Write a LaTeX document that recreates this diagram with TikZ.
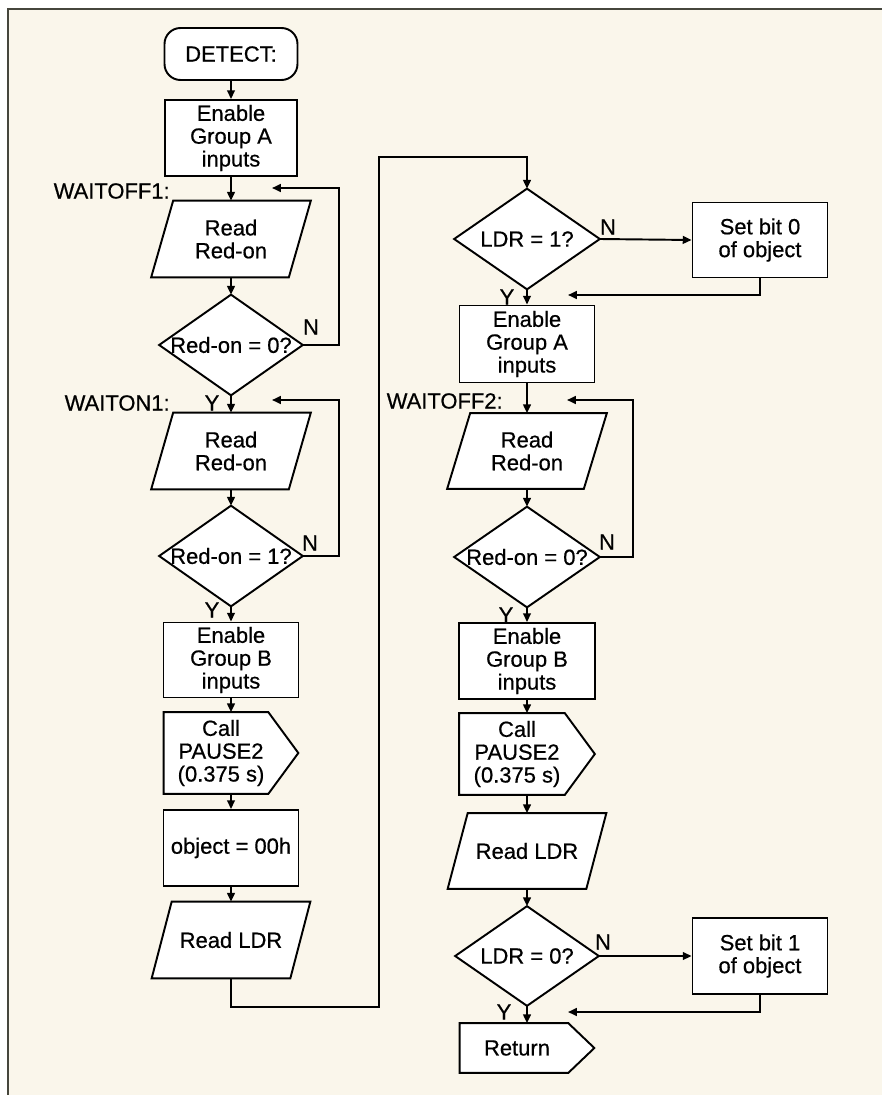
\documentclass[tikz,border=0pt]{standalone}
\usepackage{fontspec}
\setmainfont{Liberation Sans}[FakeBold=0.6]
\usetikzlibrary{calc,arrows.meta}
\definecolor{paper}{RGB}{250,246,235}
\definecolor{framec}{RGB}{70,70,60}
\pgfdeclarelayer{bg}
\pgfsetlayers{bg,main}
\newcommand\paraoutline[2]{\draw[outl] ($(#1.north west)+(#2,0)$) -- (#1.north east) -- ($(#1.south east)-(#2,0)$) -- (#1.south west) -- cycle;}
\newcommand\diaoutline[1]{\draw[outl] (#1.north) -- (#1.east) -- (#1.south) -- (#1.west) -- cycle;}
\newcommand\sigoutline[2]{\draw[outl] (#1.north west) -- ($(#1.north east)-(#2,0)$) -- (#1.east) -- ($(#1.south east)-(#2,0)$) -- (#1.south west) -- cycle;}
\tikzset{
  flow/.style={line width=1.1pt, draw=black},
  arr/.style={flow, -{Triangle[length=5pt,width=4.4pt]}},
  outl/.style={flow, fill=white, line join=miter},
  proc/.style={draw=black, line width=1.1pt, fill=white, align=center, inner sep=0pt},
  term/.style={proc, rounded corners=0.32cm},
  ghost/.style={draw=none, align=center, inner sep=0pt},
  lbl/.style={inner sep=0pt},
}
\begin{document}
\begin{tikzpicture}[x=0.02cm, y=-0.02cm, font=\fontsize{12.5}{13}\selectfont]
\useasboundingbox (0,0) rectangle (882,1095);
\begin{pgfonlayer}{bg}
  \fill[paper] (8,9) rectangle (882,1095);
  \draw[framec, line width=1.4pt] (8,1095) -- (8,9) -- (882,9);
\end{pgfonlayer}

% ---------- left column ----------
\node[term, minimum width=2.66cm, minimum height=1.04cm] (det) at (231,54) {DETECT:};
\node[proc, minimum width=2.64cm, minimum height=1.52cm] (en1) at (231,138) {Enable\\Group A\\inputs};
\node[ghost, minimum width=3.18cm, minimum height=1.52cm] (rd1) at (231,239) {Read\\Red-on};
\node[ghost, minimum width=2.86cm, minimum height=2.0cm] (d1) at (231,345) {Red-on = 0?};
\node[ghost, minimum width=3.18cm, minimum height=1.52cm] (rd2) at (231,451) {Read\\Red-on};
\node[ghost, minimum width=2.86cm, minimum height=2.0cm] (d2) at (231,556) {Red-on = 1?};
\node[proc, minimum width=2.7cm, minimum height=1.5cm] (en2) at (231,660) {Enable\\Group B\\inputs};
\node[ghost, minimum width=2.68cm, minimum height=1.62cm,
      label={[align=center, inner sep=0pt, xshift=-0.2cm]center:Call\\PAUSE2\\(0.375 s)}] (call1) at (231,753) {};
\node[proc, minimum width=2.7cm, minimum height=1.52cm] (obj) at (231,848) {object = 00h};
\node[ghost, minimum width=3.16cm, minimum height=1.52cm] (rl1) at (231,940) {Read LDR};

% ---------- right column ----------
\node[ghost, minimum width=2.9cm, minimum height=2.0cm] (d3) at (527,239) {LDR = 1?};
\node[proc, minimum width=2.7cm, minimum height=1.5cm] (sb0) at (760,240) {Set bit 0\\of object};
\node[proc, minimum width=2.7cm, minimum height=1.54cm] (en3) at (527,344) {Enable\\Group A\\inputs};
\node[ghost, minimum width=3.18cm, minimum height=1.5cm] (rd3) at (527,451) {Read\\Red-on};
\node[ghost, minimum width=2.9cm, minimum height=2.0cm] (d4) at (527,557) {Red-on = 0?};
\node[proc, minimum width=2.72cm, minimum height=1.52cm] (en4) at (527,661) {Enable\\Group B\\inputs};
\node[ghost, minimum width=2.7cm, minimum height=1.62cm,
      label={[align=center, inner sep=0pt, xshift=-0.2cm]center:Call\\PAUSE2\\(0.375 s)}] (call2) at (527,754) {};
\node[ghost, minimum width=3.16cm, minimum height=1.5cm] (rl2) at (527,851) {Read LDR};
\node[ghost, minimum width=2.86cm, minimum height=1.98cm] (d5) at (527,956) {LDR = 0?};
\node[proc, minimum width=2.7cm, minimum height=1.52cm] (sb1) at (760,956) {Set bit 1\\of object};
\node[ghost, minimum width=2.68cm, minimum height=0.98cm,
      label={[inner sep=0pt, xshift=-0.2cm]center:Return}] (ret) at (527,1048) {};

% ---------- outlines of special shapes ----------
\begin{pgfonlayer}{bg}
  \paraoutline{rd1}{22}
  \diaoutline{d1}
  \paraoutline{rd2}{22}
  \diaoutline{d2}
  \sigoutline{call1}{30}
  \paraoutline{rl1}{20}
  \diaoutline{d3}
  \paraoutline{rd3}{23}
  \diaoutline{d4}
  \sigoutline{call2}{30}
  \paraoutline{rl2}{20}
  \diaoutline{d5}
  \sigoutline{ret}{26}
\end{pgfonlayer}

% ---------- labels ----------
\node[lbl, anchor=east] (w1) at (170,191) {WAITOFF1:};
\node[lbl, anchor=east] (w2) at (170,403) {WAITON1:};
\node[lbl, anchor=east] (w3) at (503,401) {WAITOFF2:};
\node[lbl] (n1) at (311,327) {N};
\node[lbl] (n2) at (310,543) {N};
\node[lbl] (n3) at (608,227) {N};
\node[lbl] (n4) at (607,542) {N};
\node[lbl] (n5) at (603,942) {N};
\node[lbl] (y1) at (212,403) {Y};
\node[lbl] (y2) at (212,610) {Y};
\node[lbl] (y3) at (507,297) {Y};
\node[lbl] (y4) at (506,615) {Y};
\node[lbl] (y5) at (504,1012) {Y};

% ---------- connector helper coordinates ----------
\coordinate (fb1) at (272,188);  \coordinate (fb1c) at (339,188);
\coordinate (fb2) at (272,400);  \coordinate (fb2c) at (339,400);
\coordinate (fb4) at (567,400);  \coordinate (fb4c) at (633,400);
\coordinate (fb3) at (568,295);
\coordinate (fb5) at (568,1012);
\coordinate (r1) at (379,1007);  \coordinate (r2) at (379,157);

% ---------- connectors ----------
\draw[arr] (det) -- (en1);
\draw[arr] (en1) -- (rd1);
\draw[arr] (rd1) -- (d1);
\draw[arr] (d1.east) -| (fb1c) -- (fb1);
\draw[arr] (d1) -- (rd2);
\draw[arr] (rd2) -- (d2);
\draw[arr] (d2.east) -| (fb2c) -- (fb2);
\draw[arr] (d2) -- (en2);
\draw[arr] (en2) -- (call1);
\draw[arr] (call1) -- (obj);
\draw[arr] (obj) -- (rl1);
\draw[arr] (rl1.south) |- (r1) -- (r2) -| (d3.north);
\draw[arr] (d3.east) -- (sb0.west);
\draw[arr] (sb0.south) |- (fb3);
\draw[arr] (d3) -- (en3);
\draw[arr] (en3) -- (rd3);
\draw[arr] (rd3) -- (d4);
\draw[arr] (d4.east) -| (fb4c) -- (fb4);
\draw[arr] (d4) -- (en4);
\draw[arr] (en4) -- (call2);
\draw[arr] (call2) -- (rl2);
\draw[arr] (rl2) -- (d5);
\draw[arr] (d5.east) -- (sb1.west);
\draw[arr] (sb1.south) |- (fb5);
\draw[arr] (d5) -- (ret);
\end{tikzpicture}
\end{document}
